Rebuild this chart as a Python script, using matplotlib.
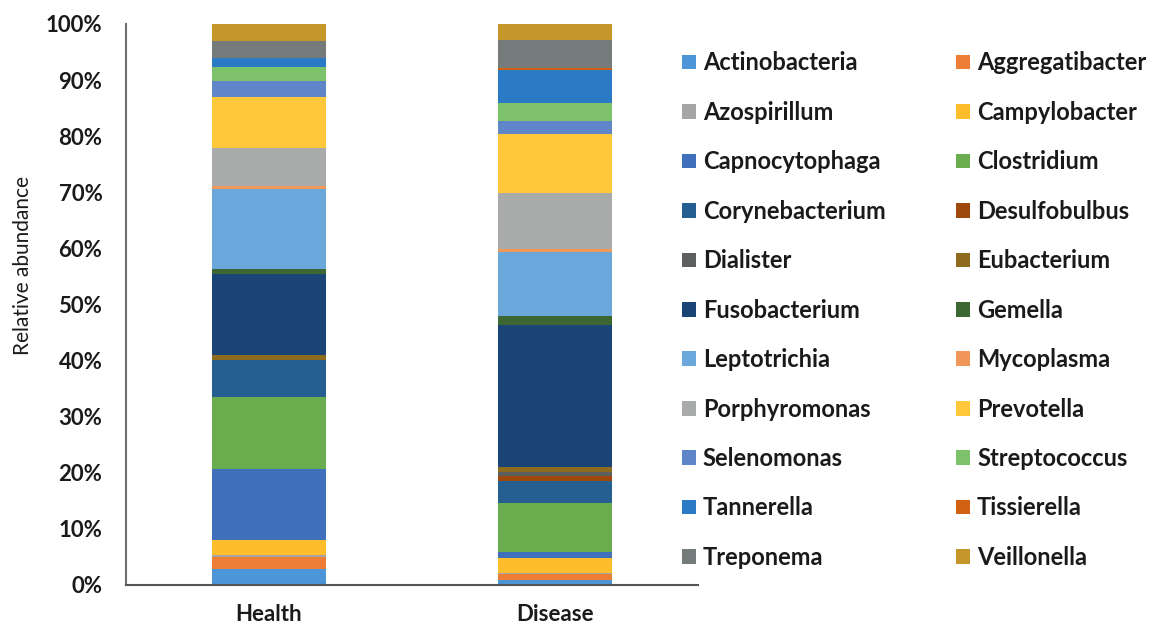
import numpy as np
import matplotlib
matplotlib.use("Agg")
import matplotlib.pyplot as plt
from matplotlib.ticker import PercentFormatter

# groups and taxa (stack order, bottom to top)
groups = ["Health", "Disease"]
taxa = ["Actinobacteria", "Aggregatibacter", "Azospirillum", "Campylobacter",
        "Capnocytophaga", "Clostridium", "Corynebacterium", "Desulfobulbus",
        "Dialister", "Eubacterium", "Fusobacterium", "Gemella",
        "Leptotrichia", "Mycoplasma", "Porphyromonas", "Prevotella",
        "Selenomonas", "Streptococcus", "Tannerella", "Tissierella",
        "Treponema", "Veillonella"]

# relative abundance in %
health = [2.85, 2.2, 0.3, 2.6, 12.8, 12.8, 6.5, 0.0, 0.0, 1.0, 14.4, 0.9,
          14.3, 0.4, 6.9, 9.1, 2.7, 2.6, 1.5, 0.0, 3.2, 3.05]
disease = [0.9, 1.0, 0.3, 2.6, 1.0, 8.8, 4.0, 0.9, 0.7, 0.9, 25.3, 1.6,
           11.4, 0.5, 10.0, 10.4, 2.4, 3.2, 5.9, 0.3, 5.0, 2.9]

colors = ["#4C95D6", "#EE7D35", "#A5A5A5", "#FEBD2A", "#4070BB", "#6AAD4F",
          "#255E91", "#9E480E", "#5E6060", "#8F6B1F", "#1B4577", "#3C6632",
          "#6AA8DC", "#F1975A", "#A9ABAB", "#FFC83A", "#5F86C8", "#7DC26A",
          "#2A7AC6", "#D26012", "#757A7A", "#C5972A"]

plt.rcParams['font.family'] = ['Lato', 'DejaVu Sans']

fig = plt.figure(figsize=(11.49, 6.29), dpi=100)
ax = fig.add_axes([0.1097, 0.07, 0.4978, 0.8919])

data = np.array([health, disease])  # shape (2, n_taxa)
x = np.arange(len(groups))
bottom = np.zeros(len(groups))
handles = []
for i, name in enumerate(taxa):
    h = ax.bar(x, data[:, i], width=0.4, bottom=bottom, color=colors[i],
               edgecolor='none', label=name)
    handles.append(h)
    bottom += data[:, i]

ax.set_xlim(-0.5, 1.5)
ax.set_ylim(0, 100)
ax.set_yticks(np.arange(0, 101, 10))
ax.yaxis.set_major_formatter(PercentFormatter(decimals=0))
ax.set_xticks(x)
ax.set_xticklabels(groups)
ax.tick_params(axis='both', length=0, labelsize=16)
ax.tick_params(axis='y', pad=17)
ax.tick_params(axis='x', pad=14)
for lab in ax.get_xticklabels() + ax.get_yticklabels():
    lab.set_fontweight('bold')
    lab.set_color('#1a1a1a')

ax.set_ylabel("Relative abundance", fontsize=15, color='#1a1a1a')
ax.yaxis.set_label_coords(-0.163, 0.57)

for s in ['top', 'right']:
    ax.spines[s].set_visible(False)
ax.spines['left'].set_color('#6e6e6e')
ax.spines['left'].set_linewidth(1.5)
ax.spines['bottom'].set_color('#555555')
ax.spines['bottom'].set_linewidth(1.5)

# legend filled row by row like the original (two columns)
order = list(range(0, len(taxa), 2)) + list(range(1, len(taxa), 2))
leg = fig.legend([handles[i] for i in order], [taxa[i] for i in order],
                 ncol=2, loc='upper left', bbox_to_anchor=(0.575, 0.952),
                 frameon=False, fontsize=17, handlelength=0.58,
                 handleheight=0.58, handletextpad=0.3, labelspacing=1.12,
                 columnspacing=3.0)
for t in leg.get_texts():
    t.set_fontweight('bold')
    t.set_color('#1a1a1a')

fig.savefig("out.png", dpi=100)
